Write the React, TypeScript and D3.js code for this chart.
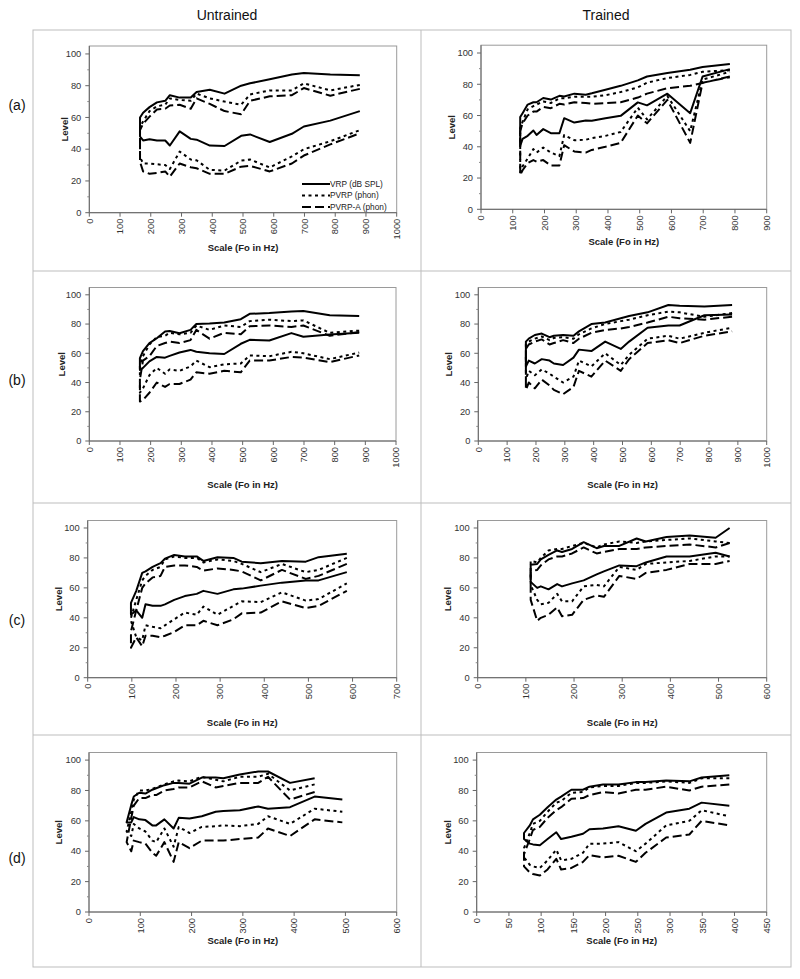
import React from "react";
import * as d3 from "d3";

// ---------- DATA ----------
const columnLabels = ["Untrained", "Trained"];
const rowLabels = ["(a)", "(b)", "(c)", "(d)"];
const legendLabels = ["VRP (dB SPL)", "PVRP (phon)", "PVRP-A (phon)"];

// (a) Untrained
const aU_freq = [165, 175, 196, 220, 247, 262, 294, 330, 349, 392, 440, 494, 523, 587, 659, 698, 784, 880];
const aU_vrpUp = [60, 63, 66.5, 69.5, 70.5, 74, 72.5, 72.5, 76, 77.5, 75, 80, 81.5, 84, 87, 88, 87, 86.5];
const aU_vrpLo = [48, 45.5, 46.3, 45.5, 45.5, 42.3, 51.2, 46.5, 46, 42.3, 42, 48.4, 49.3, 44.5, 49.7, 54.3, 58, 64];
const aU_pvrpUp = [54, 57.5, 64, 67, 68, 72, 71, 70.5, 75, 72, 70, 68, 74.5, 77, 77, 81.5, 77, 80.5];
const aU_pvrpLo = [35, 31, 31, 30.5, 30, 27.5, 38.5, 33.5, 33, 27, 26.5, 32.8, 33.5, 28.5, 35.5, 40, 45, 52];
const aU_pvrpaUp = [52, 56, 60.5, 65, 65.5, 67.5, 68, 65.5, 72, 68.5, 64, 62, 70.5, 73.3, 74, 78.5, 73.7, 78];
const aU_pvrpaLo = [32, 26, 24.5, 25, 26, 22.7, 31, 28.6, 28, 24.5, 24.5, 29, 29.5, 26, 31, 36, 43, 50];

// (a) Trained
const aT_freq = [123.5, 131, 147, 165, 175, 196, 220, 247, 262, 294, 330, 349, 392, 440, 494, 523, 587, 659, 698, 784];
const aT_vrpUp = [59, 61.5, 67, 68.5, 68.5, 71.2, 70.2, 72.6, 72.2, 74, 73.3, 74.2, 76.5, 79, 82.5, 85, 87.2, 89.3, 91, 93];
const aT_vrpLo = [40.6, 45, 47, 50.4, 47.6, 51.3, 48.7, 48.7, 58.3, 55.5, 56.8, 56.6, 58.3, 59.8, 68.4, 66.5, 74, 61.5, 85, 89.7];
const aT_pvrpUp = [52, 56, 64, 66, 67, 69, 68, 71, 71, 72, 72, 72, 73, 75, 78, 81, 84, 86, 88, 89];
const aT_pvrpLo = [23.5, 27.5, 32.5, 38.5, 36.3, 39.5, 36.3, 34, 47.5, 44.2, 44.5, 45.5, 47, 49.5, 65, 57.5, 72.5, 50, 83, 88];
const aT_pvrpaUp = [50, 55, 60, 62.5, 62.5, 65.5, 64.7, 67.5, 67, 68.5, 68, 67.5, 68, 68.5, 71.5, 74, 77.5, 79, 80.8, 85];
const aT_pvrpaLo = [22, 25, 29.5, 31.5, 30.5, 31.5, 28, 28, 41, 37, 36.3, 38, 40, 42.5, 60, 55, 70, 42.5, 81, 84.5];

// (b) Untrained
const bU_freq = [165, 175, 196, 220, 247, 262, 294, 330, 349, 392, 440, 494, 523, 587, 659, 698, 784, 880];
const bU_vrpUp = [56.6, 61.5, 67, 70.3, 74.9, 75.3, 73.7, 76, 80, 80.3, 81, 83.3, 87, 87.5, 88.6, 89, 86, 85.5];
const bU_vrpLo = [48.6, 50, 54.5, 57.5, 57, 58.2, 60.5, 62.3, 61, 60, 59.5, 66.5, 69.2, 68.7, 73.8, 71.3, 72.8, 74];
const bU_pvrpUp = [52, 58, 66, 71, 72, 74, 73, 74, 79, 76, 79, 78, 82, 83, 82, 82.5, 74, 75.5];
const bU_pvrpLo = [33, 36, 45, 50, 46, 49, 48, 51, 55, 50.5, 52.5, 53, 58.5, 58, 61, 60, 56, 60.5];
const bU_pvrpaUp = [42, 55, 58, 65, 67, 68, 67, 69, 76, 70, 74, 73, 78.5, 79, 78, 79, 72, 74.5];
const bU_pvrpaLo = [27, 28, 33, 40, 37, 39, 39, 42, 47, 46, 48, 47, 55, 55, 57.5, 57, 54, 58.5];

// (b) Trained
const bT_freq = [165, 175, 196, 220, 247, 262, 294, 330, 349, 392, 440, 494, 523, 587, 659, 698, 784, 880];
const bT_vrpUp = [68, 70, 72.5, 73.5, 71, 72, 72.5, 72, 75, 80, 81, 84, 85.5, 88, 93, 92.5, 92, 93];
const bT_vrpLo = [51, 55, 53, 56, 55, 53, 52, 57, 62.5, 61.5, 68, 63, 68, 77.5, 79, 79, 86, 86.5];
const bT_pvrpUp = [66, 68, 70, 71.5, 69, 70.5, 71, 70, 73, 77, 80, 82, 83, 86, 88.5, 88, 85, 87.5];
const bT_pvrpLo = [42, 48, 45, 49, 46, 44, 40, 44, 55, 51, 60, 52, 59, 70, 72, 70, 74, 77.5];
const bT_pvrpaUp = [63, 66, 68, 69.5, 66, 67, 69, 67, 70, 74, 76, 77, 78, 81, 85, 84, 83, 85];
const bT_pvrpaLo = [35, 40, 36, 42, 38, 35, 32, 37, 48, 44, 55, 48, 56, 67, 69, 67, 72, 75];

// (c) Untrained
const cU_freq = [98, 110, 123.5, 131, 147, 165, 175, 196, 220, 247, 262, 294, 330, 349, 392, 440, 494, 523, 587];
const cU_vrpUp = [50, 58, 70, 71, 74, 76.5, 79.5, 82, 81, 81, 78, 80.5, 80, 77.5, 76.5, 78, 77.5, 80.5, 82.8];
const cU_vrpLo = [42, 45, 40, 49, 48, 48, 49, 52, 54.5, 56, 58, 56, 59, 59.5, 61.5, 63.5, 65, 65, 70.5];
const cU_pvrpUp = [40, 52, 65, 68, 72, 74, 79, 81, 80, 80, 77, 79, 78, 76, 70.5, 76, 70.5, 72, 80];
const cU_pvrpLo = [38, 27, 25, 35, 34, 33, 35, 39, 43.5, 42, 47.5, 42, 48, 51, 50.5, 57, 51.5, 52.5, 63];
const cU_pvrpaUp = [31, 45, 60, 63, 67, 68, 74, 75, 75, 74, 71.5, 73, 72, 71, 65, 72, 66, 68, 76];
const cU_pvrpaLo = [20, 27, 21, 28, 28, 27, 28, 30.5, 35, 35, 38, 35, 39, 43, 43.5, 51, 46.5, 48, 58];

// (c) Trained
const cT_freq = [110, 123.5, 131, 147, 165, 175, 196, 220, 247, 262, 294, 330, 349, 392, 440, 494, 523];
const cT_vrpUp = [75.5, 76, 79, 82, 85, 84, 86, 90.5, 86.5, 88, 88, 93, 91, 94, 95, 93.5, 100];
const cT_vrpLo = [64, 60, 61, 59, 62.5, 61, 63, 65, 69, 71, 75, 74.5, 77, 81, 81, 83.5, 81];
const cT_pvrpUp = [78, 77, 80, 85, 86, 86, 88, 90, 87, 89, 91, 90, 91, 92, 93, 91, 90];
const cT_pvrpLo = [62, 52, 49, 50, 56, 51, 51, 61, 62, 61, 74, 72, 76, 77, 78, 81, 81];
const cT_pvrpaUp = [71, 72, 75, 79, 81, 81, 83, 87, 83, 84, 86, 86, 87, 88, 89, 87, 90];
const cT_pvrpaLo = [52, 38, 40, 42, 47, 41, 42, 52, 55, 54, 68, 66, 70, 72, 76, 76, 78];

// (d) Untrained
const dU_freq = [73.4, 82.4, 87.3, 98, 110, 123.5, 131, 147, 165, 175, 196, 220, 247, 262, 294, 330, 349, 392, 440, 494];
const dU_vrpUp = [null, 70.5, 76, 78.5, 78, 80.5, 81.5, 83.5, 85, 85, 84.5, 88.5, 88.5, 88, 90.5, 92.5, 92.5, 85, 88, null];
const dU_vrpLo = [59, 59, 62.5, 61, 60.5, 57, 57, 61, 55, 62, 61.5, 63, 66, 66.5, 67, 69.5, 68, 69, 76, 74];
const dU_pvrpUp = [null, 66, 74, 80, 80, 81, 82, 84, 86, 86.5, 86, 89, 87, 86, 89, 89, 91, 80, 84, null];
const dU_pvrpLo = [53, 50, 58, 55, 53, 47, 46, 55, 43, 56, 52, 56, 56.5, 57, 56.5, 58, 63, 58, 68, 66];
const dU_pvrpaUp = [null, 62, 70, 75, 75, 77, 77, 80, 81, 82, 82, 86, 82, 83, 85, 85, 89, 74, 79, null];
const dU_pvrpaLo = [46, 40, 47, 46, 45, 39, 37, 46, 33, 46, 42, 47, 47, 47, 48, 49, 55, 50, 61, 59];

// (d) Trained
const dT_freq = [73.4, 82.4, 87.3, 98, 110, 123.5, 131, 147, 165, 175, 196, 220, 247, 262, 294, 330, 349, 392];
const dT_vrpUp = [52, 57, 61, 64, 69, 74, 76, 80.5, 80.5, 82.5, 84, 84, 85.5, 85.5, 86.5, 86, 88.5, 90];
const dT_vrpLo = [48, 45, 44.5, 44, 48, 52.5, 48, 49.5, 51.5, 54.5, 55, 56.5, 53.5, 58, 65.5, 68, 72, 70];
const dT_pvrpUp = [42, 52, 58, 60, 66, 72, 73, 78.5, 79, 82, 83, 83, 85, 85, 86, 85, 88, 88];
const dT_pvrpLo = [36, 31, 30, 29, 34, 41, 34, 35, 39, 45, 45, 46, 40, 45, 57, 60, 67, 63];
const dT_pvrpaUp = [38, 48, 54, 56, 62, 67, 69, 74.5, 75, 77, 79, 78, 80.5, 80.5, 82.5, 80, 82.5, 84];
const dT_pvrpaLo = [30, 26, 25, 24, 28, 35, 28, 29, 33, 37.5, 36, 37, 33, 39, 49, 51, 60, 57];

// x-axis maxima and steps per panel
const xMaxes = { aU: 1000, aT: 900, bU: 1000, bT: 1000, cU: 700, cT: 600, dU: 600, dT: 450 };
const xSteps = { aU: 100, aT: 100, bU: 100, bT: 100, cU: 100, cT: 100, dU: 100, dT: 50 };
const yTicks = [0, 20, 40, 60, 80, 100];
const yMinorTicks = [10, 30, 50, 70, 90];

// ---------- LAYOUT ----------
const FONT = "'Liberation Sans', Arial, sans-serif";
const layout = {
  aU: { L: 89.3, R: 396.7, B: 212.7, T: 46, titleY: 248, levelX: 65 },
  aT: { L: 481, R: 766.7, B: 209.3, T: 45.2, titleY: 242, levelX: 452 },
  bU: { L: 89.3, R: 396, B: 441, T: 287.5, titleY: 485, levelX: 62 },
  bT: { L: 478.3, R: 766.7, B: 441, T: 287.5, titleY: 485, levelX: 449 },
  cU: { L: 87.7, R: 396.7, B: 677.7, T: 520.5, titleY: 723, levelX: 59 },
  cT: { L: 477.7, R: 766.7, B: 677.7, T: 520.5, titleY: 723, levelX: 448 },
  dU: { L: 89, R: 396.7, B: 912, T: 752.5, titleY: 941, levelX: 59 },
  dT: { L: 476.7, R: 766.7, B: 912, T: 752.5, titleY: 941, levelX: 448 },
};

const panelData = {
  aU: { f: aU_freq, s: [[aU_vrpUp, aU_vrpLo], [aU_pvrpUp, aU_pvrpLo], [aU_pvrpaUp, aU_pvrpaLo]] },
  aT: { f: aT_freq, s: [[aT_vrpUp, aT_vrpLo], [aT_pvrpUp, aT_pvrpLo], [aT_pvrpaUp, aT_pvrpaLo]] },
  bU: { f: bU_freq, s: [[bU_vrpUp, bU_vrpLo], [bU_pvrpUp, bU_pvrpLo], [bU_pvrpaUp, bU_pvrpaLo]] },
  bT: { f: bT_freq, s: [[bT_vrpUp, bT_vrpLo], [bT_pvrpUp, bT_pvrpLo], [bT_pvrpaUp, bT_pvrpaLo]] },
  cU: { f: cU_freq, s: [[cU_vrpUp, cU_vrpLo], [cU_pvrpUp, cU_pvrpLo], [cU_pvrpaUp, cU_pvrpaLo]] },
  cT: { f: cT_freq, s: [[cT_vrpUp, cT_vrpLo], [cT_pvrpUp, cT_pvrpLo], [cT_pvrpaUp, cT_pvrpaLo]] },
  dU: { f: dU_freq, s: [[dU_vrpUp, dU_vrpLo], [dU_pvrpUp, dU_pvrpLo], [dU_pvrpaUp, dU_pvrpaLo]] },
  dT: { f: dT_freq, s: [[dT_vrpUp, dT_vrpLo], [dT_pvrpUp, dT_pvrpLo], [dT_pvrpaUp, dT_pvrpaLo]] },
};

const dashes = [null, "3,3.5", "9,4"];
const panelKeys = ["aU", "aT", "bU", "bT", "cU", "cT", "dU", "dT"];

function Panel({ k }: { k: string }) {
  const g = layout[k];
  const xMax = xMaxes[k];
  const step = xSteps[k];
  const x = d3.scaleLinear().domain([0, xMax]).range([g.L, g.R]);
  const yPer = (g.B - g.T) / 105;
  const y = d3.scaleLinear().domain([0, 105]).range([g.B, g.B - 105 * yPer]);
  const xt = d3.range(0, xMax + step / 2, step);
  const line = d3
    .line<[number, number]>()
    .x((d) => x(d[0]))
    .y((d) => y(d[1]))
    .curve(d3.curveLinear);
  const { f, s } = panelData[k];
  const paths = s.map(([up, lo]) => {
    const upPts = f.map((fv, i) => [fv, up[i]]).filter((p) => p[1] != null).reverse();
    const loPts = f.map((fv, i) => [fv, lo[i]]).filter((p) => p[1] != null);
    return line([...upPts, ...loPts] as [number, number][]);
  });
  const cx = (g.L + g.R) / 2;
  const cy = (g.T + g.B) / 2;
  return (
    <g>
      <rect x={g.L} y={y(105)} width={g.R - g.L} height={g.B - y(105)} fill="none" stroke="#9a9a9a" strokeWidth={1} />
      <line x1={g.L} x2={g.L} y1={y(105)} y2={g.B} stroke="#666" />
      <line x1={g.L} x2={g.R} y1={g.B} y2={g.B} stroke="#666" />
      {yTicks.map((t) => (
        <g key={"y" + t}>
          <line x1={g.L - 4} x2={g.L} y1={y(t)} y2={y(t)} stroke="#666" />
          <text x={g.L - 8} y={y(t)} dy="0.35em" textAnchor="end" fontSize={9.3} fill="#333" fontFamily={FONT}>
            {t}
          </text>
        </g>
      ))}
      {yMinorTicks.map((t) => (
        <line key={"ym" + t} x1={g.L - 2} x2={g.L} y1={y(t)} y2={y(t)} stroke="#888" />
      ))}
      {xt.map((t) => (
        <g key={"x" + t}>
          <line x1={x(t)} x2={x(t)} y1={g.B} y2={g.B + 4} stroke="#666" />
          <text
            transform={`translate(${x(t)},${g.B + 6}) rotate(-90)`}
            dy="0.35em"
            textAnchor="end"
            fontSize={9.3}
            fill="#333"
            fontFamily={FONT}
          >
            {t}
          </text>
        </g>
      ))}
      <text x={cx} y={g.titleY} dy="0.35em" textAnchor="middle" fontSize={9.5} fontWeight="bold" fill="#222" fontFamily={FONT}>
        Scale (Fo in Hz)
      </text>
      <text
        transform={`translate(${g.levelX},${cy}) rotate(-90)`}
        dy="0.35em"
        textAnchor="middle"
        fontSize={9.5}
        fontWeight="bold"
        fill="#222"
        fontFamily={FONT}
      >
        Level
      </text>
      {paths.map((p, i) => (
        <path
          key={i}
          d={p || ""}
          fill="none"
          stroke="#000"
          strokeWidth={2}
          strokeLinejoin="round"
          strokeDasharray={dashes[i] || undefined}
        />
      ))}
    </g>
  );
}

function Legend() {
  const x0 = 302, x1 = 330;
  const ys = [184, 195.5, 207];
  return (
    <g>
      {legendLabels.map((lab, i) => (
        <g key={lab}>
          <line x1={x0} x2={x1} y1={ys[i]} y2={ys[i]} stroke="#000" strokeWidth={2} strokeDasharray={dashes[i] || undefined} />
          <text x={x1} y={ys[i]} dy="0.35em" fontSize={8.3} fill="#222" fontFamily={FONT}>
            {lab}
          </text>
        </g>
      ))}
    </g>
  );
}

export default function App() {
  const gridX = [33, 421, 791];
  const gridY = [30, 271, 503, 735, 967];
  const rowLabelY = [105, 380, 620, 858];
  return (
    <svg width={800} height={979} style={{ position: "absolute", left: 0, top: 0, background: "#fff" }}>
      <rect x={0} y={0} width={800} height={979} fill="#fff" />
      {/* grid */}
      <rect x={gridX[0]} y={gridY[0]} width={gridX[2] - gridX[0]} height={gridY[4] - gridY[0]} fill="none" stroke="#bdbdbd" />
      <line x1={gridX[1]} x2={gridX[1]} y1={gridY[0]} y2={gridY[4]} stroke="#bdbdbd" />
      {gridY.slice(1, 4).map((yy) => (
        <line key={yy} x1={gridX[0]} x2={gridX[2]} y1={yy} y2={yy} stroke="#bdbdbd" />
      ))}
      {columnLabels.map((c, i) => (
        <text key={c} x={(gridX[i] + gridX[i + 1]) / 2} y={15} dy="0.35em" textAnchor="middle" fontSize={14} fill="#111" fontFamily={FONT}>
          {c}
        </text>
      ))}
      {rowLabels.map((r, i) => (
        <text key={r} x={17} y={rowLabelY[i]} dy="0.35em" textAnchor="middle" fontSize={14} fill="#111" fontFamily={FONT}>
          {r}
        </text>
      ))}
      {panelKeys.map((k) => (
        <Panel key={k} k={k} />
      ))}
      <Legend />
    </svg>
  );
}
